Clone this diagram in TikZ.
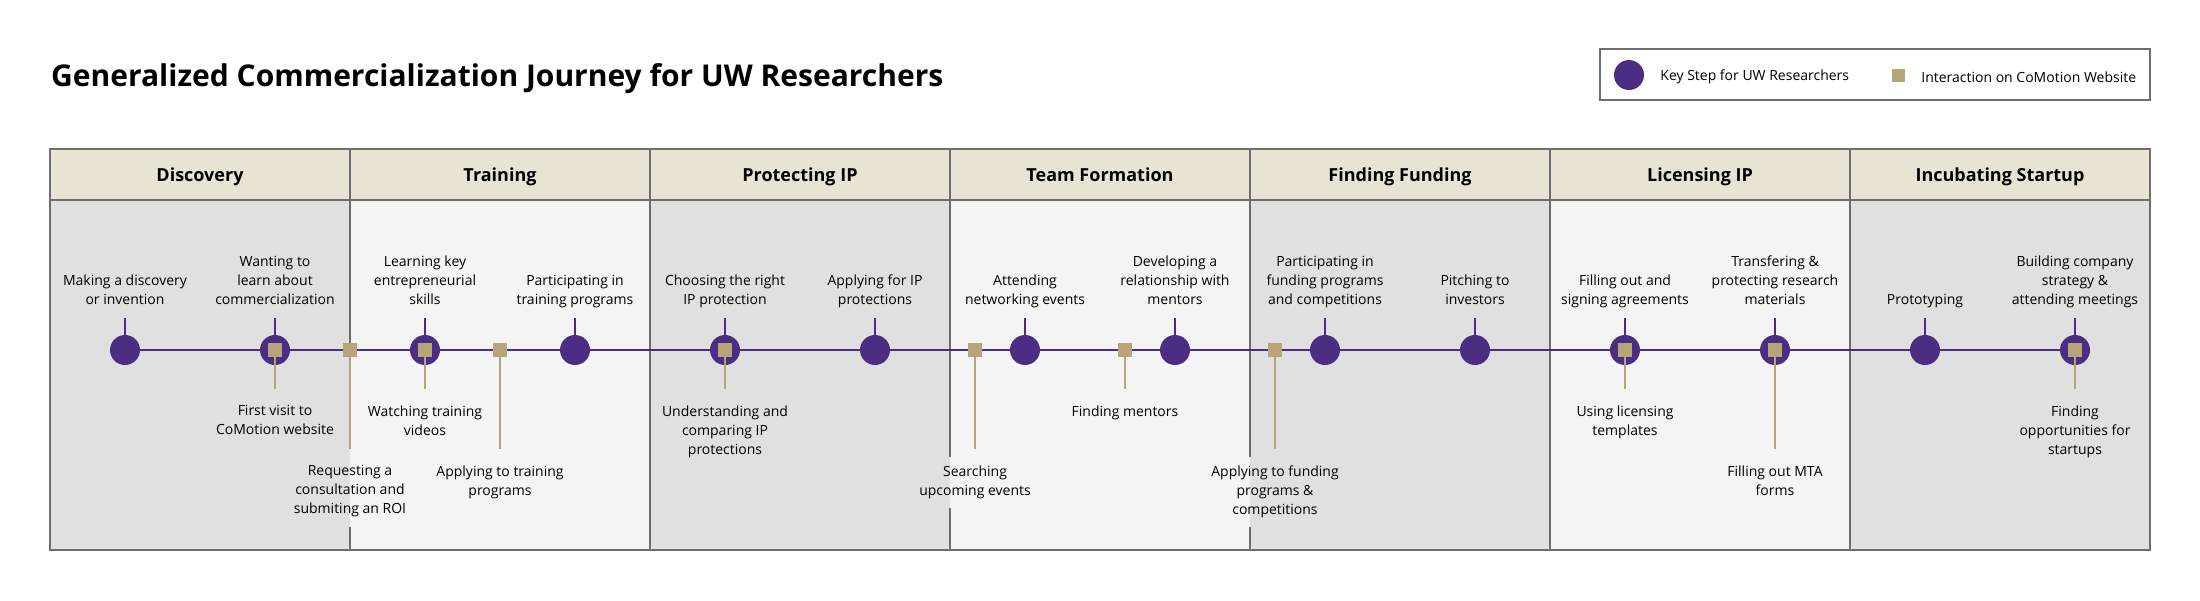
\documentclass[tikz,border=0pt]{standalone}
\usepackage{fontspec}
\setmainfont{Open Sans}
\usetikzlibrary{positioning, backgrounds}

\definecolor{uwpurple}{HTML}{4B2E83}
\definecolor{uwgold}{HTML}{B7A57A}
\definecolor{headtan}{HTML}{E8E3D3}
\definecolor{coldark}{HTML}{E1E0E1}
\definecolor{collight}{HTML}{F4F4F4}
\definecolor{rulegray}{HTML}{6E6E6E}

\begin{document}
\begin{tikzpicture}[x = 1pt, y = -1pt, font = \fontsize{14}{19}\selectfont,
    keystep/.style = {circle, fill = uwpurple, minimum size = 30pt, inner sep = 0pt},
    webstep/.style = {fill = uwgold, minimum size = 14pt, inner sep = 0pt},
    steplabel/.style = {align = center, anchor = base, inner sep = 0pt},
    weblabel/.style = {align = center, inner xsep = 0pt},
    rule/.style = {draw = rulegray, line width = 2pt},
    phase/.style = {anchor = base, inner sep = 0pt,
      font = \fontsize{18}{22}\selectfont\bfseries}]
  \useasboundingbox (0,0) rectangle (2200,600);

  % phases
  \begin{scope}[on background layer]
    \foreach \ph [count = \i from 0] in {Discovery, Training, Protecting IP,
        Team Formation, Finding Funding, Licensing IP, Incubating Startup} {
      \ifodd\i \def\body{collight}\else \def\body{coldark}\fi
      \fill [headtan] (50+300*\i,149) rectangle +(300,51);
      \fill [\body] (50+300*\i,200) rectangle +(300,350);
      \node [phase] (ph\i) at (200+300*\i,181.5) {\ph};
    }
  \end{scope}

  % key steps
  \foreach \n in {1, ..., 14} {
    \coordinate (p\n) at (150*\n-25,350);
    \coordinate (pt\n) at (150*\n-25,318);
  }
  \draw [uwpurple, line width = 2.5pt] (p1) -- (p14);
  \foreach \n in {1, ..., 14} \draw [uwpurple, line width = 2pt] (pt\n) -- (p\n);
  \foreach \n in {1, ..., 14} \node [keystep] (k\n) at (p\n) {};
  \foreach \t [count = \n] in {{Making a discovery\\or invention},
      {Wanting to\\learn about\\commercialization},
      {Learning key\\entrepreneurial\\skills},
      {Participating in\\training programs},
      {Choosing the right\\IP protection}, {Applying for IP\\protections},
      {Attending\\networking events},
      {Developing a\\relationship with\\mentors},
      {Participating in\\funding programs\\and competitions},
      {Pitching to\\investors}, {Filling out and\\signing agreements},
      {Transfering \&\\protecting research\\materials}, {Prototyping},
      {Building company\\strategy \&\\attending meetings}}
    \path (pt\n) ++(0,-13.5) node [steplabel] (kl\n) {\t};

  % website interactions
  \foreach \x/\y/\g/\t [count = \n] in {
      275/389/0/{First visit to\\CoMotion website},
      350/449/9/{Requesting a\\consultation and\\submiting an ROI},
      425/389/0/{Watching training\\videos},
      500/449/0/{Applying to training\\programs},
      725/389/0/{Understanding and\\comparing IP\\protections},
      975/449/9/{Searching\\upcoming events},
      1125/389/0/{Finding mentors},
      1275/449/9/{Applying to funding\\programs \&\\competitions},
      1625/389/0/{Using licensing\\templates},
      1775/449/0/{Filling out MTA\\forms},
      2075/389/0/{Finding\\opportunities for\\startups}} {
    \coordinate (q\n) at (\x,350);
    \coordinate (qb\n) at (\x,\y);
    \draw [uwgold, line width = 2pt] (q\n) -- (qb\n);
    \node [webstep] (w\n) at (q\n) {};
    \node [weblabel, inner ysep = \g pt, yshift = \g, below = 16.5pt of qb\n]
      (wl\n) {\t};
  }

  % frame
  \begin{scope}[on background layer]
    \foreach \i in {1, ..., 6} \coordinate (d\i) at (50+300*\i,149);
    \coordinate (fb) at (0,550);
    \foreach \i in {2, 5, 6} \draw [rule] (d\i) -- (d\i |- fb);
    \draw [rule] (d1) -- (q2) (d1 |- wl2.south) -- (d1 |- fb);
    \draw [rule] (d3) -- (d3 |- wl6.north) (d3 |- wl6.south) -- (d3 |- fb);
    \draw [rule] (d4) -- (d4 |- wl8.north) (d4 |- wl8.south) -- (d4 |- fb);
    \draw [rule] (50,200) -- (2150,200);
    \draw [rule] (50,149) rectangle (2150,550);
  \end{scope}

  % title and legend
  \node [anchor = base west, inner sep = 0pt, font = \fontsize{30}{36}\selectfont\bfseries]
    (title) at (51,86) {Generalized Commercialization Journey for UW Researchers};
  \draw [draw = rulegray, line width = 1.5pt, fill = white] (1600,49) rectangle (2150,100);
  \node [keystep] (lk) at (1629,75) {};
  \node [right = 16pt of lk, inner sep = 0pt, yshift = -2pt] (lkt) {Key Step for UW Researchers};
  \node [webstep, minimum size = 13pt] (lw) at (1898,75) {};
  \node [right = 16.5pt of lw, inner sep = 0pt, yshift = -2pt] (lwt) {Interaction on CoMotion Website};
\end{tikzpicture}
\end{document}
